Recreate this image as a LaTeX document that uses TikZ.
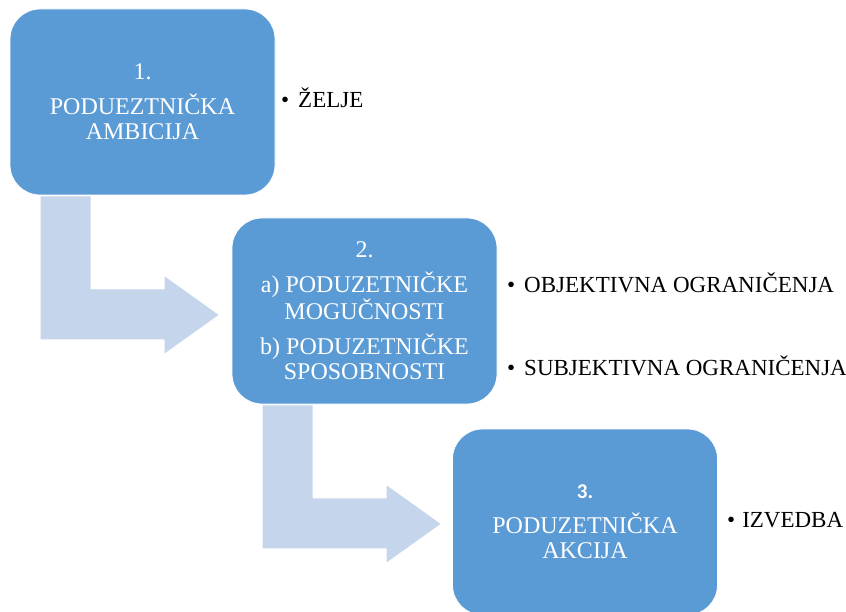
\documentclass[tikz,border=0pt]{standalone}
\usepackage{fontspec}
\setmainfont{Liberation Serif}
\newfontfamily\calib{Carlito}
\usetikzlibrary{calc,backgrounds}
\definecolor{boxblue}{RGB}{91,155,213}
\definecolor{arrowblue}{RGB}{197,213,235}
\tikzset{
  stagebox/.style={fill=boxblue, draw=white, line width=0.8pt, rounded corners=30pt,
    minimum width=265pt, minimum height=186pt, inner sep=0pt, align=center,
    text=white, font=\fontsize{24}{25}\selectfont},
  bullettext/.style={anchor=base west, inner sep=0pt, text=black,
    font=\fontsize{23}{25}\selectfont},
  arrowfill/.style={fill=arrowblue}
}
\newcommand\bendarrow[1]{%
  \fill[arrowfill] ($(#1.south west)+(31,1)$) -- ($(#1.south west)+(81,1)$)
    -- ($(#1.south west)+(81,94)$) -- ($(#1.south west)+(155,94)$)
    -- ($(#1.south west)+(155,81)$) -- ($(#1.south west)+(209,119.5)$)
    -- ($(#1.south west)+(155,158)$) -- ($(#1.south west)+(155,144)$)
    -- ($(#1.south west)+(31,144)$) -- cycle;}
\begin{document}
\begin{tikzpicture}[x=1pt,y=-1pt]
\useasboundingbox (0,0) rectangle (846,612);
% stage boxes
\node[stagebox] (b1) at (142.5,102) {1.\\[10pt]PODUEZTNIČKA\\AMBICIJA};
\node[stagebox] (b2) at (364.5,311) {2.\\[10pt]a) PODUZETNIČKE\\MOGUČNOSTI\\[10pt]b) PODUZETNIČKE\\SPOSOBNOSTI};
\node[stagebox] (b3) at (585,522) {{\calib\bfseries\fontsize{21}{25}\selectfont 3.}\\[10pt]PODUZETNIČKA\\AKCIJA};
% bent arrows behind the boxes
\begin{scope}[on background layer]
\bendarrow{b1}
\bendarrow{b2}
\end{scope}
% bullets
\node[bullettext] (t1) at (281,108) {\textbullet\hspace{9pt}ŽELJE};
\node[bullettext] (t2) at (507,293) {\textbullet\hspace{9pt}OBJEKTIVNA OGRANIČENJA};
\node[bullettext] (t3) at (507,375) {\textbullet\hspace{9pt}SUBJEKTIVNA OGRANIČENJA};
\node[bullettext] (t4) at (727,527) {\textbullet\hspace{7pt}IZVEDBA};
\end{tikzpicture}
\end{document}
